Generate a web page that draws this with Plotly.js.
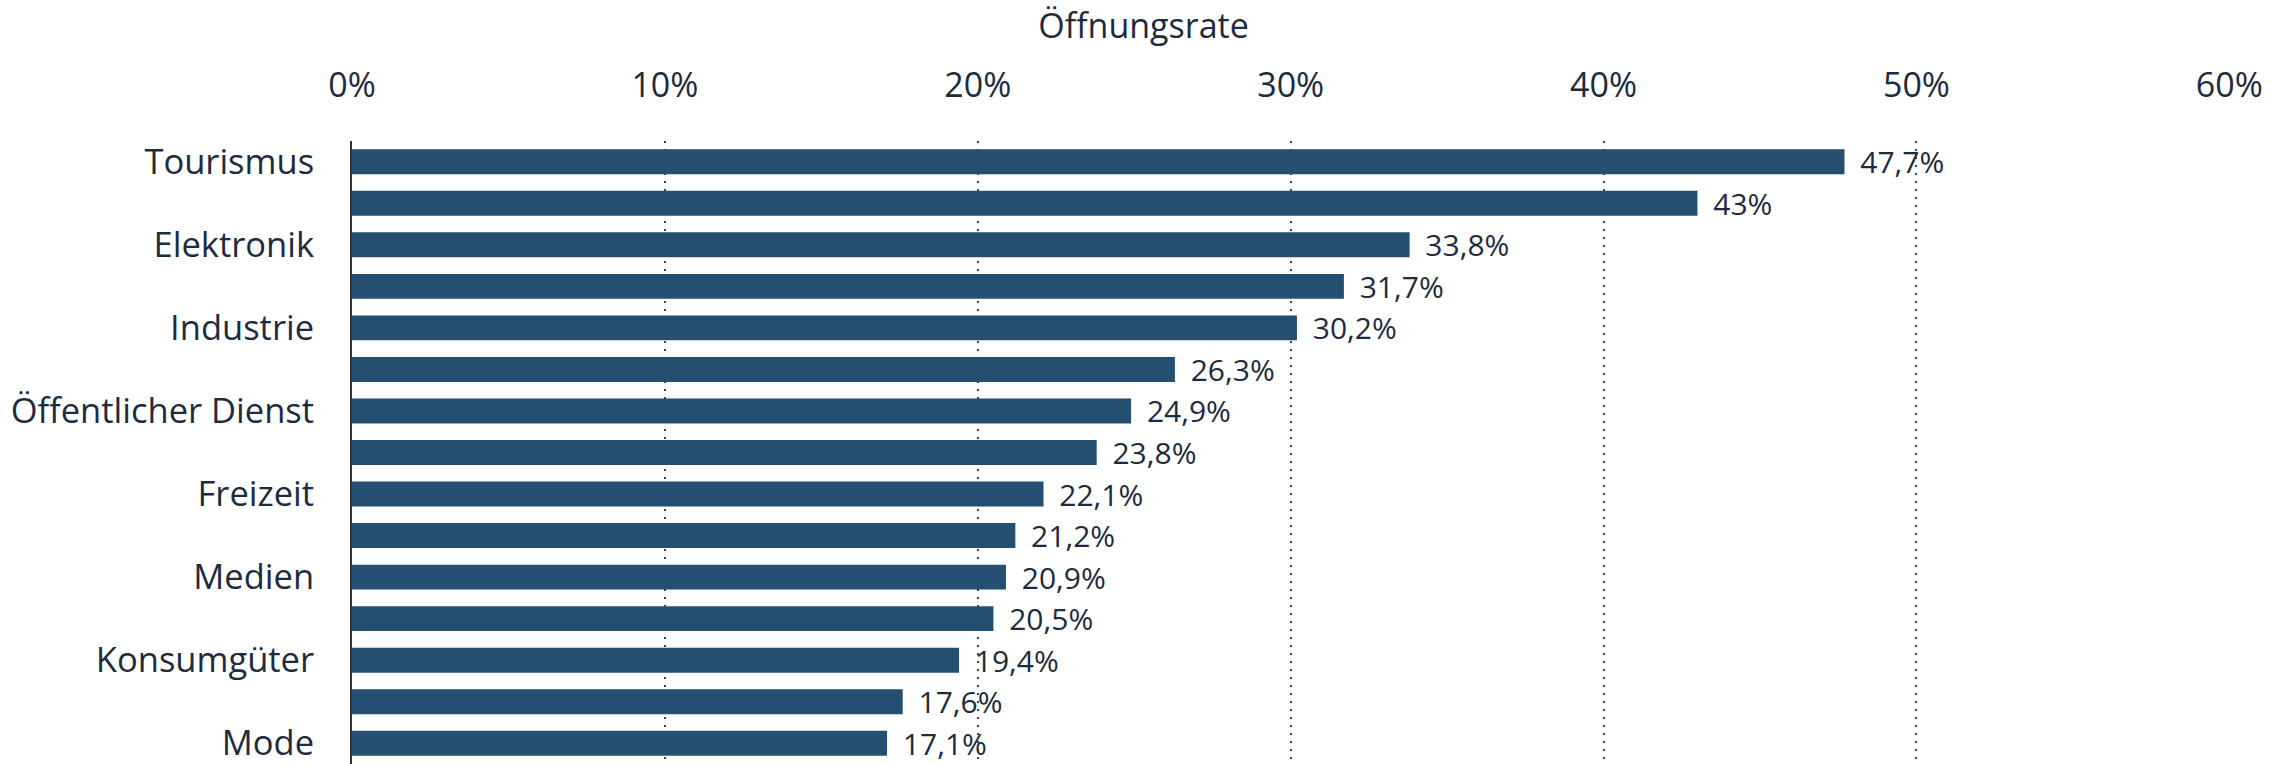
<!DOCTYPE html>
<html>
<head>
<meta charset="utf-8">
<script src="https://cdn.plot.ly/plotly-3.0.1.min.js"></script>
<style>
  html, body { margin: 0; padding: 0; background: #fff; }
  #chart { width: 2287px; height: 764px; }
</style>
</head>
<body>
<div id="chart"></div>
<script>
// categories top to bottom, only every other one gets a label on the axis
var branchen = ["Tourismus", "Bildung", "Elektronik", "Gesundheit", "Industrie", "Finanzen",
  "Öffentlicher Dienst", "Immobilien", "Freizeit", "Logistik", "Medien", "Handel",
  "Konsumgüter", "Software", "Mode"];
var oeffnungsrate = [47.7, 43, 33.8, 31.7, 30.2, 26.3, 24.9, 23.8, 22.1, 21.2, 20.9, 20.5, 19.4, 17.6, 17.1];
var xTicks = [0, 10, 20, 30, 40, 50, 60];
var xTickLabels = xTicks.map(t => t + "%");

var textColor = "#1c2b40";
var barColor = "#244f71";

// German decimal comma for the labels
var labels = oeffnungsrate.map(v => "\u00a0\u2009" + String(v).replace(".", ",") + "%");

var trace = {
  type: "bar",
  orientation: "h",
  x: oeffnungsrate,
  y: branchen,
  text: labels,
  textposition: "outside",
  constraintext: "none",
  cliponaxis: false,
  textfont: { family: "Open Sans", size: 30, color: textColor },
  marker: { color: barColor, line: { width: 0 } },
  hoverinfo: "none"
};

var layout = {
  width: 2287,
  height: 764,
  margin: { l: 352, r: 57, t: 141, b: 0 },
  paper_bgcolor: "#fff",
  plot_bgcolor: "#fff",
  bargap: 0.4,
  showlegend: false,
  font: { family: "Open Sans", color: textColor },
  // axis name sits centred over the whole page
  title: {
    text: "Öffnungsrate",
    font: { size: 34, color: textColor },
    xref: "paper", x: 0.5 - 0.5 * (352 - 57) / (2287 - 352 - 57),
    yref: "container", y: 1 - 26 / 764, yanchor: "middle"
  },
  xaxis: {
    side: "top",
    range: [0, 60.02],
    tickmode: "array",
    tickvals: xTicks,
    ticktext: xTickLabels,
    ticks: "",
    ticklabelstandoff: 36,
    tickfont: { size: 34, color: textColor },
    showgrid: true,
    gridcolor: "#444",
    gridwidth: 2,
    griddash: "2px,6px",
    zeroline: false,
    showline: false
  },
  yaxis: {
    autorange: "reversed",
    tickmode: "linear",
    tick0: 0,
    dtick: 2,
    ticks: "",
    ticklabelstandoff: 29,
    tickfont: { size: 34.5, color: textColor },
    showgrid: false,
    showline: true,
    linecolor: "#333",
    linewidth: 2
  }
};

Plotly.newPlot("chart", [trace], layout, { displayModeBar: false, staticPlot: true });
</script>
</body>
</html>
